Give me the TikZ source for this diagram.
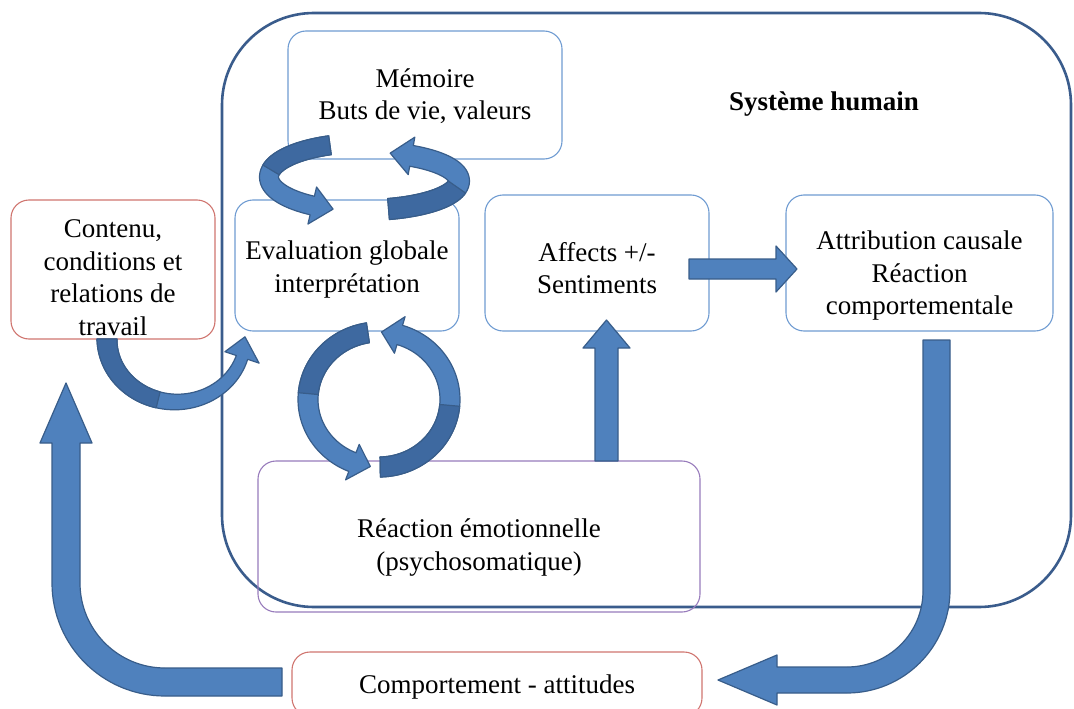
\documentclass[tikz,border=0pt]{standalone}
\usepackage{fontspec}
\setmainfont{Liberation Serif}
\definecolor{boxblue}{RGB}{112,156,210}
\definecolor{boxred}{RGB}{208,118,112}
\definecolor{boxpurple}{RGB}{152,124,188}
\definecolor{outerc}{RGB}{58,92,140}
\definecolor{arrfill}{RGB}{79,129,189}
\definecolor{arredge}{RGB}{56,93,138}
\definecolor{arrdark}{RGB}{62,105,160}
\tikzset{
  declare function={
    nx(\tang,\rxa,\ryb)=\ryb*cos(\tang)/sqrt((\ryb*cos(\tang))^2+(\rxa*sin(\tang))^2);
    ny(\tang,\rxa,\ryb)=\rxa*sin(\tang)/sqrt((\ryb*cos(\tang))^2+(\rxa*sin(\tang))^2);
  },
  txt/.style={align=center, font=\fontsize{27}{32.5}\selectfont, inner sep=0pt},
  box/.style={rounded corners=18pt, line width=1.1pt, inner sep=0pt},
  bluebox/.style={box, draw=boxblue},
  redbox/.style={box, draw=boxred},
  purplebox/.style={box, draw=boxpurple},
  outerbox/.style={draw=outerc, line width=2.6pt, rounded corners=92pt},
  barrow/.style={fill=arrfill, draw=arredge, line width=1.2pt, line join=round},
  dband/.style={fill=arrdark, draw=arredge, line width=1.2pt, line join=round},
}
% curved (elliptic) block arrow: cx cy rx ry t_start t_headbase t_tip w_start w_end ; head half width \hw
\newcommand\carr[9]{%
  \filldraw[barrow]
    plot[domain=#5:#6,samples=50,variable=\t]
      ({#1+#3*cos(\t)+(#8+(#9-#8)*(\t-(#5))/((#6)-(#5)))*nx(\t,#3,#4)},
       {#2+#4*sin(\t)+(#8+(#9-#8)*(\t-(#5))/((#6)-(#5)))*ny(\t,#3,#4)})
    -- ({#1+#3*cos(#6)+\hw*nx(#6,#3,#4)},{#2+#4*sin(#6)+\hw*ny(#6,#3,#4)})
    -- ({#1+#3*cos(#7)},{#2+#4*sin(#7)})
    -- ({#1+#3*cos(#6)-\hw*nx(#6,#3,#4)},{#2+#4*sin(#6)-\hw*ny(#6,#3,#4)})
    -- plot[domain=#6:#5,samples=50,variable=\t]
      ({#1+#3*cos(\t)-(#8+(#9-#8)*(\t-(#5))/((#6)-(#5)))*nx(\t,#3,#4)},
       {#2+#4*sin(\t)-(#8+(#9-#8)*(\t-(#5))/((#6)-(#5)))*ny(\t,#3,#4)})
    -- cycle;}
% darker band overlay: cx cy rx ry t_start t_end w_start w_end
\newcommand\cband[8]{%
  \filldraw[dband]
    plot[domain=#5:#6,samples=40,variable=\t]
      ({#1+#3*cos(\t)+(#7+(#8-#7)*(\t-(#5))/((#6)-(#5)))*nx(\t,#3,#4)},
       {#2+#4*sin(\t)+(#7+(#8-#7)*(\t-(#5))/((#6)-(#5)))*ny(\t,#3,#4)})
    -- plot[domain=#6:#5,samples=40,variable=\t]
      ({#1+#3*cos(\t)-(#7+(#8-#7)*(\t-(#5))/((#6)-(#5)))*nx(\t,#3,#4)},
       {#2+#4*sin(\t)-(#7+(#8-#7)*(\t-(#5))/((#6)-(#5)))*ny(\t,#3,#4)})
    -- cycle;}
\begin{document}
\begin{tikzpicture}[x=1pt,y=-1pt]
\useasboundingbox (0,0) rectangle (1074,709);
\clip (0,0) rectangle (1074,709);
\fill[white] (0,0) rectangle (1074,709);

% system boundary
\draw[outerbox] (222,13) rectangle (1071,607);
\node[txt, font=\fontsize{27}{32.5}\selectfont\bfseries] (sys) at (824,104) {Système humain};

% boxes
\node[bluebox, minimum width=274pt, minimum height=128pt] (mem) at (425,95) {};
\node[bluebox, minimum width=224pt, minimum height=131pt] (eval) at (347,265.5) {};
\node[bluebox, minimum width=224pt, minimum height=136pt] (aff) at (597,263) {};
\node[bluebox, minimum width=267pt, minimum height=136pt] (attr) at (919.5,263) {};
\node[redbox, minimum width=204pt, minimum height=139pt] (cont) at (113,269.5) {};
\node[purplebox, minimum width=442pt, minimum height=151pt] (reac) at (479,536.5) {};
\node[redbox, minimum width=410pt, minimum height=64pt] (comp) at (497,684) {};

% texts
\node[txt, yshift=-1pt] (memtext) at (mem) {Mémoire\\Buts de vie, valeurs};
\node[txt, yshift=-4pt] (evaltext) at (eval) {Evaluation globale\\interprétation};
\node[txt, yshift=-5pt] (afftext) at (aff) {Affects +/-\\Sentiments};
\node[txt, yshift=-13pt] (attrtext) at (attr) {Attribution causale\\Réaction\\comportementale};
\node[txt, yshift=-8pt] (conttext) at (cont) {Contenu,\\conditions et\\relations de\\travail};
\node[txt, yshift=-11pt] (reactext) at (reac) {Réaction émotionnelle\\(psychosomatique)};
\node[txt, yshift=-3pt] (comptext) at (comp) {Comportement - attitudes};

% straight block arrows
\filldraw[barrow] (689,259) -- (776,259) -- (776,246) -- (797,269) -- (776,292) -- (776,279) -- (689,279) -- cycle;
\filldraw[barrow] (595,461) -- (595,348) -- (583,348) -- (606.5,320) -- (630,348) -- (618,348) -- (618,461) -- cycle;

% L arrow: Comportement -> Contenu
\filldraw[barrow] (282,668) -- (165,668) arc[start angle=90,end angle=180,radius=85]
  -- (80,443) -- (92,443) -- (66,383) -- (40,443) -- (52,443) -- (52,583)
  arc[start angle=180,end angle=90,radius=113] -- (282,696) -- cycle;

% J arrow: Attribution -> Comportement
\filldraw[barrow] (923,340) -- (950,340) -- (950,590) arc[start angle=0,end angle=90,radius=103]
  -- (777,693) -- (777,705) -- (718,680) -- (777,655) -- (777,667) -- (847,667)
  arc[start angle=90,end angle=0,radius=76] -- cycle;

% upper circular arrows (Memoire <-> Evaluation)
\def\hw{19}
\carr{364}{177}{95}{34}{249}{123}{109}{9.5}{9.5}
\cband{364}{177}{95}{34}{249}{192}{9.5}{9.5}
\carr{364}{181}{95}{29}{75}{-60}{-74}{10.5}{10.5}
\cband{364}{181}{95}{29}{75}{12}{10.5}{10.5}

% lower circular arrows (Evaluation <-> Reaction)
\def\hw{19}
\carr{379}{399.5}{71}{67.5}{261}{112}{97}{10}{10}
\cband{379}{399.5}{71}{67.5}{261}{185}{10}{10}
\carr{379}{399.5}{71}{67.5}{89}{-73}{-88}{10}{10}
\cband{379}{399.5}{71}{67.5}{89}{5}{10}{10}

% Contenu -> Evaluation
\def\hw{18}
\carr{176}{339}{69}{63}{180}{17}{-2}{10}{6}
\cband{176}{339}{69}{63}{180}{105}{10}{8.2}
\end{tikzpicture}
\end{document}
